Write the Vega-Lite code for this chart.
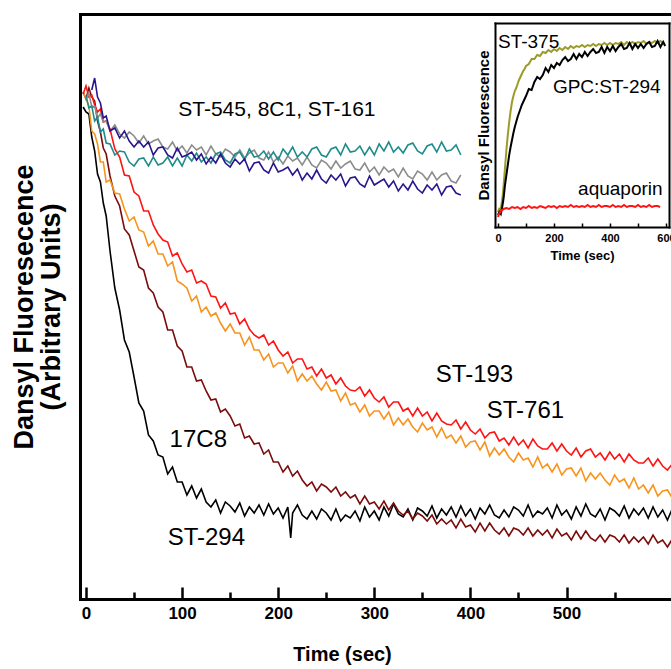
{
"$schema": "https://vega.github.io/schema/vega-lite/v6.json",
"width": 591, "height": 585,
"autosize": "none",
"padding": {"left": 80, "top": 14, "right": 0, "bottom": 70},
"background": "white",
"config": {"view": {"stroke": null}, "font": "Liberation Sans", "axis": {"grid": false, "zindex": 1}},
"datasets": {
"main": [
{"s":"ST-294","t":-3,"v":493},{"s":"ST-294","t":0,"v":488},{"s":"ST-294","t":3,"v":486},{"s":"ST-294","t":6,"v":463},{"s":"ST-294","t":9,"v":449},{"s":"ST-294","t":12,"v":426},{"s":"ST-294","t":15,"v":418},{"s":"ST-294","t":18,"v":397},{"s":"ST-294","t":21,"v":384},{"s":"ST-294","t":25,"v":349},{"s":"ST-294","t":30,"v":312},{"s":"ST-294","t":35,"v":290},{"s":"ST-294","t":40,"v":260},{"s":"ST-294","t":45,"v":248},{"s":"ST-294","t":50,"v":223},{"s":"ST-294","t":55,"v":197},{"s":"ST-294","t":60,"v":189},{"s":"ST-294","t":65,"v":165},{"s":"ST-294","t":70,"v":159},{"s":"ST-294","t":75,"v":145},{"s":"ST-294","t":80,"v":143},{"s":"ST-294","t":85,"v":126},{"s":"ST-294","t":90,"v":133},{"s":"ST-294","t":95,"v":118},{"s":"ST-294","t":100,"v":118},{"s":"ST-294","t":105,"v":105},{"s":"ST-294","t":110,"v":114},{"s":"ST-294","t":115,"v":102},{"s":"ST-294","t":120,"v":111},{"s":"ST-294","t":125,"v":98},{"s":"ST-294","t":130,"v":93},{"s":"ST-294","t":135,"v":100},{"s":"ST-294","t":140,"v":87},{"s":"ST-294","t":145,"v":98},{"s":"ST-294","t":150,"v":94},{"s":"ST-294","t":155,"v":88},{"s":"ST-294","t":160,"v":97},{"s":"ST-294","t":165,"v":84},{"s":"ST-294","t":170,"v":93},{"s":"ST-294","t":175,"v":87},{"s":"ST-294","t":180,"v":95},{"s":"ST-294","t":185,"v":85},{"s":"ST-294","t":190,"v":96},{"s":"ST-294","t":195,"v":86},{"s":"ST-294","t":200,"v":92},{"s":"ST-294","t":205,"v":82},{"s":"ST-294","t":210,"v":93},{"s":"ST-294","t":213,"v":62},{"s":"ST-294","t":215,"v":87},{"s":"ST-294","t":220,"v":95},{"s":"ST-294","t":225,"v":85},{"s":"ST-294","t":230,"v":81},{"s":"ST-294","t":235,"v":89},{"s":"ST-294","t":240,"v":81},{"s":"ST-294","t":245,"v":91},{"s":"ST-294","t":250,"v":87},{"s":"ST-294","t":255,"v":80},{"s":"ST-294","t":260,"v":91},{"s":"ST-294","t":265,"v":79},{"s":"ST-294","t":270,"v":85},{"s":"ST-294","t":275,"v":82},{"s":"ST-294","t":280,"v":89},{"s":"ST-294","t":285,"v":79},{"s":"ST-294","t":290,"v":93},{"s":"ST-294","t":295,"v":83},{"s":"ST-294","t":300,"v":89},{"s":"ST-294","t":305,"v":80},{"s":"ST-294","t":310,"v":93},{"s":"ST-294","t":315,"v":84},{"s":"ST-294","t":320,"v":96},{"s":"ST-294","t":325,"v":86},{"s":"ST-294","t":330,"v":83},{"s":"ST-294","t":335,"v":91},{"s":"ST-294","t":340,"v":80},{"s":"ST-294","t":345,"v":92},{"s":"ST-294","t":350,"v":89},{"s":"ST-294","t":355,"v":84},{"s":"ST-294","t":360,"v":94},{"s":"ST-294","t":365,"v":82},{"s":"ST-294","t":370,"v":91},{"s":"ST-294","t":375,"v":85},{"s":"ST-294","t":380,"v":93},{"s":"ST-294","t":385,"v":83},{"s":"ST-294","t":390,"v":94},{"s":"ST-294","t":395,"v":84},{"s":"ST-294","t":400,"v":91},{"s":"ST-294","t":405,"v":81},{"s":"ST-294","t":410,"v":92},{"s":"ST-294","t":415,"v":86},{"s":"ST-294","t":420,"v":95},{"s":"ST-294","t":425,"v":85},{"s":"ST-294","t":430,"v":82},{"s":"ST-294","t":435,"v":90},{"s":"ST-294","t":440,"v":83},{"s":"ST-294","t":445,"v":93},{"s":"ST-294","t":450,"v":90},{"s":"ST-294","t":455,"v":84},{"s":"ST-294","t":460,"v":95},{"s":"ST-294","t":465,"v":83},{"s":"ST-294","t":470,"v":89},{"s":"ST-294","t":475,"v":86},{"s":"ST-294","t":480,"v":92},{"s":"ST-294","t":485,"v":82},{"s":"ST-294","t":490,"v":95},{"s":"ST-294","t":495,"v":85},{"s":"ST-294","t":500,"v":90},{"s":"ST-294","t":505,"v":81},{"s":"ST-294","t":510,"v":93},{"s":"ST-294","t":515,"v":84},{"s":"ST-294","t":520,"v":96},{"s":"ST-294","t":525,"v":86},{"s":"ST-294","t":530,"v":83},{"s":"ST-294","t":535,"v":91},{"s":"ST-294","t":540,"v":80},{"s":"ST-294","t":545,"v":92},{"s":"ST-294","t":550,"v":89},{"s":"ST-294","t":555,"v":84},{"s":"ST-294","t":560,"v":94},{"s":"ST-294","t":565,"v":82},{"s":"ST-294","t":570,"v":91},{"s":"ST-294","t":575,"v":85},{"s":"ST-294","t":580,"v":92},{"s":"ST-294","t":585,"v":82},{"s":"ST-294","t":590,"v":93},{"s":"ST-294","t":595,"v":83},{"s":"ST-294","t":600,"v":90},{"s":"ST-294","t":605,"v":80},{"s":"ST-294","t":610,"v":91},
{"s":"17C8","t":-3,"v":508},{"s":"17C8","t":0,"v":501},{"s":"17C8","t":3,"v":512},{"s":"17C8","t":6,"v":503},{"s":"17C8","t":9,"v":499},{"s":"17C8","t":12,"v":479},{"s":"17C8","t":15,"v":468},{"s":"17C8","t":18,"v":452},{"s":"17C8","t":21,"v":446},{"s":"17C8","t":25,"v":424},{"s":"17C8","t":30,"v":404},{"s":"17C8","t":35,"v":394},{"s":"17C8","t":40,"v":371},{"s":"17C8","t":45,"v":365},{"s":"17C8","t":50,"v":349},{"s":"17C8","t":55,"v":333},{"s":"17C8","t":60,"v":330},{"s":"17C8","t":65,"v":312},{"s":"17C8","t":70,"v":307},{"s":"17C8","t":75,"v":293},{"s":"17C8","t":80,"v":288},{"s":"17C8","t":85,"v":270},{"s":"17C8","t":90,"v":270},{"s":"17C8","t":95,"v":254},{"s":"17C8","t":100,"v":249},{"s":"17C8","t":105,"v":233},{"s":"17C8","t":110,"v":233},{"s":"17C8","t":115,"v":219},{"s":"17C8","t":120,"v":220},{"s":"17C8","t":125,"v":209},{"s":"17C8","t":130,"v":200},{"s":"17C8","t":135,"v":201},{"s":"17C8","t":140,"v":188},{"s":"17C8","t":145,"v":191},{"s":"17C8","t":150,"v":184},{"s":"17C8","t":155,"v":174},{"s":"17C8","t":160,"v":176},{"s":"17C8","t":165,"v":162},{"s":"17C8","t":170,"v":164},{"s":"17C8","t":175,"v":156},{"s":"17C8","t":180,"v":157},{"s":"17C8","t":185,"v":146},{"s":"17C8","t":190,"v":150},{"s":"17C8","t":195,"v":138},{"s":"17C8","t":200,"v":138},{"s":"17C8","t":205,"v":128},{"s":"17C8","t":210,"v":134},{"s":"17C8","t":215,"v":124},{"s":"17C8","t":220,"v":129},{"s":"17C8","t":225,"v":120},{"s":"17C8","t":230,"v":114},{"s":"17C8","t":235,"v":118},{"s":"17C8","t":240,"v":109},{"s":"17C8","t":245,"v":116},{"s":"17C8","t":250,"v":113},{"s":"17C8","t":255,"v":108},{"s":"17C8","t":260,"v":113},{"s":"17C8","t":265,"v":104},{"s":"17C8","t":270,"v":108},{"s":"17C8","t":275,"v":102},{"s":"17C8","t":280,"v":105},{"s":"17C8","t":285,"v":96},{"s":"17C8","t":290,"v":104},{"s":"17C8","t":295,"v":96},{"s":"17C8","t":300,"v":98},{"s":"17C8","t":305,"v":91},{"s":"17C8","t":310,"v":99},{"s":"17C8","t":315,"v":90},{"s":"17C8","t":320,"v":97},{"s":"17C8","t":325,"v":89},{"s":"17C8","t":330,"v":85},{"s":"17C8","t":335,"v":89},{"s":"17C8","t":340,"v":81},{"s":"17C8","t":345,"v":87},{"s":"17C8","t":350,"v":84},{"s":"17C8","t":355,"v":79},{"s":"17C8","t":360,"v":85},{"s":"17C8","t":365,"v":76},{"s":"17C8","t":370,"v":81},{"s":"17C8","t":375,"v":76},{"s":"17C8","t":380,"v":80},{"s":"17C8","t":385,"v":72},{"s":"17C8","t":390,"v":81},{"s":"17C8","t":395,"v":73},{"s":"17C8","t":400,"v":75},{"s":"17C8","t":405,"v":68},{"s":"17C8","t":410,"v":77},{"s":"17C8","t":415,"v":69},{"s":"17C8","t":420,"v":77},{"s":"17C8","t":425,"v":70},{"s":"17C8","t":430,"v":66},{"s":"17C8","t":435,"v":72},{"s":"17C8","t":440,"v":64},{"s":"17C8","t":445,"v":72},{"s":"17C8","t":450,"v":70},{"s":"17C8","t":455,"v":65},{"s":"17C8","t":460,"v":72},{"s":"17C8","t":465,"v":64},{"s":"17C8","t":470,"v":70},{"s":"17C8","t":475,"v":65},{"s":"17C8","t":480,"v":70},{"s":"17C8","t":485,"v":62},{"s":"17C8","t":490,"v":71},{"s":"17C8","t":495,"v":64},{"s":"17C8","t":500,"v":67},{"s":"17C8","t":505,"v":60},{"s":"17C8","t":510,"v":69},{"s":"17C8","t":515,"v":61},{"s":"17C8","t":520,"v":69},{"s":"17C8","t":525,"v":62},{"s":"17C8","t":530,"v":59},{"s":"17C8","t":535,"v":65},{"s":"17C8","t":540,"v":58},{"s":"17C8","t":545,"v":65},{"s":"17C8","t":550,"v":63},{"s":"17C8","t":555,"v":58},{"s":"17C8","t":560,"v":65},{"s":"17C8","t":565,"v":57},{"s":"17C8","t":570,"v":63},{"s":"17C8","t":575,"v":58},{"s":"17C8","t":580,"v":63},{"s":"17C8","t":585,"v":56},{"s":"17C8","t":590,"v":65},{"s":"17C8","t":595,"v":57},{"s":"17C8","t":600,"v":60},{"s":"17C8","t":605,"v":53},{"s":"17C8","t":610,"v":61},
{"s":"ST-761","t":-3,"v":507},{"s":"ST-761","t":0,"v":502},{"s":"ST-761","t":3,"v":494},{"s":"ST-761","t":6,"v":469},{"s":"ST-761","t":9,"v":466},{"s":"ST-761","t":12,"v":456},{"s":"ST-761","t":15,"v":438},{"s":"ST-761","t":18,"v":438},{"s":"ST-761","t":21,"v":418},{"s":"ST-761","t":25,"v":420},{"s":"ST-761","t":30,"v":407},{"s":"ST-761","t":35,"v":406},{"s":"ST-761","t":40,"v":391},{"s":"ST-761","t":45,"v":379},{"s":"ST-761","t":50,"v":383},{"s":"ST-761","t":55,"v":370},{"s":"ST-761","t":60,"v":368},{"s":"ST-761","t":65,"v":354},{"s":"ST-761","t":70,"v":359},{"s":"ST-761","t":75,"v":346},{"s":"ST-761","t":80,"v":346},{"s":"ST-761","t":85,"v":334},{"s":"ST-761","t":90,"v":338},{"s":"ST-761","t":95,"v":319},{"s":"ST-761","t":100,"v":316},{"s":"ST-761","t":105,"v":312},{"s":"ST-761","t":110,"v":299},{"s":"ST-761","t":115,"v":304},{"s":"ST-761","t":120,"v":288},{"s":"ST-761","t":125,"v":293},{"s":"ST-761","t":130,"v":284},{"s":"ST-761","t":135,"v":287},{"s":"ST-761","t":140,"v":277},{"s":"ST-761","t":145,"v":269},{"s":"ST-761","t":150,"v":276},{"s":"ST-761","t":155,"v":267},{"s":"ST-761","t":160,"v":267},{"s":"ST-761","t":165,"v":255},{"s":"ST-761","t":170,"v":263},{"s":"ST-761","t":175,"v":250},{"s":"ST-761","t":180,"v":250},{"s":"ST-761","t":185,"v":240},{"s":"ST-761","t":190,"v":246},{"s":"ST-761","t":195,"v":233},{"s":"ST-761","t":200,"v":237},{"s":"ST-761","t":205,"v":237},{"s":"ST-761","t":210,"v":227},{"s":"ST-761","t":215,"v":234},{"s":"ST-761","t":220,"v":219},{"s":"ST-761","t":225,"v":226},{"s":"ST-761","t":230,"v":219},{"s":"ST-761","t":235,"v":224},{"s":"ST-761","t":240,"v":216},{"s":"ST-761","t":245,"v":210},{"s":"ST-761","t":250,"v":218},{"s":"ST-761","t":255,"v":209},{"s":"ST-761","t":260,"v":210},{"s":"ST-761","t":265,"v":199},{"s":"ST-761","t":270,"v":207},{"s":"ST-761","t":275,"v":195},{"s":"ST-761","t":280,"v":197},{"s":"ST-761","t":285,"v":188},{"s":"ST-761","t":290,"v":195},{"s":"ST-761","t":295,"v":184},{"s":"ST-761","t":300,"v":189},{"s":"ST-761","t":305,"v":189},{"s":"ST-761","t":310,"v":181},{"s":"ST-761","t":315,"v":188},{"s":"ST-761","t":320,"v":175},{"s":"ST-761","t":325,"v":182},{"s":"ST-761","t":330,"v":175},{"s":"ST-761","t":335,"v":181},{"s":"ST-761","t":340,"v":173},{"s":"ST-761","t":345,"v":168},{"s":"ST-761","t":350,"v":177},{"s":"ST-761","t":355,"v":170},{"s":"ST-761","t":360,"v":173},{"s":"ST-761","t":365,"v":163},{"s":"ST-761","t":370,"v":172},{"s":"ST-761","t":375,"v":162},{"s":"ST-761","t":380,"v":165},{"s":"ST-761","t":385,"v":157},{"s":"ST-761","t":390,"v":164},{"s":"ST-761","t":395,"v":153},{"s":"ST-761","t":400,"v":158},{"s":"ST-761","t":405,"v":159},{"s":"ST-761","t":410,"v":150},{"s":"ST-761","t":415,"v":158},{"s":"ST-761","t":420,"v":144},{"s":"ST-761","t":425,"v":152},{"s":"ST-761","t":430,"v":145},{"s":"ST-761","t":435,"v":151},{"s":"ST-761","t":440,"v":143},{"s":"ST-761","t":445,"v":138},{"s":"ST-761","t":450,"v":147},{"s":"ST-761","t":455,"v":140},{"s":"ST-761","t":460,"v":142},{"s":"ST-761","t":465,"v":133},{"s":"ST-761","t":470,"v":143},{"s":"ST-761","t":475,"v":132},{"s":"ST-761","t":480,"v":136},{"s":"ST-761","t":485,"v":128},{"s":"ST-761","t":490,"v":136},{"s":"ST-761","t":495,"v":125},{"s":"ST-761","t":500,"v":131},{"s":"ST-761","t":505,"v":132},{"s":"ST-761","t":510,"v":124},{"s":"ST-761","t":515,"v":132},{"s":"ST-761","t":520,"v":119},{"s":"ST-761","t":525,"v":127},{"s":"ST-761","t":530,"v":121},{"s":"ST-761","t":535,"v":127},{"s":"ST-761","t":540,"v":120},{"s":"ST-761","t":545,"v":115},{"s":"ST-761","t":550,"v":125},{"s":"ST-761","t":555,"v":118},{"s":"ST-761","t":560,"v":121},{"s":"ST-761","t":565,"v":112},{"s":"ST-761","t":570,"v":122},{"s":"ST-761","t":575,"v":111},{"s":"ST-761","t":580,"v":115},{"s":"ST-761","t":585,"v":107},{"s":"ST-761","t":590,"v":115},{"s":"ST-761","t":595,"v":104},{"s":"ST-761","t":600,"v":109},{"s":"ST-761","t":605,"v":110},{"s":"ST-761","t":610,"v":102},
{"s":"ST-193","t":-3,"v":506},{"s":"ST-193","t":0,"v":514},{"s":"ST-193","t":3,"v":503},{"s":"ST-193","t":6,"v":505},{"s":"ST-193","t":9,"v":495},{"s":"ST-193","t":12,"v":488},{"s":"ST-193","t":15,"v":491},{"s":"ST-193","t":18,"v":478},{"s":"ST-193","t":21,"v":479},{"s":"ST-193","t":25,"v":471},{"s":"ST-193","t":30,"v":451},{"s":"ST-193","t":35,"v":443},{"s":"ST-193","t":40,"v":425},{"s":"ST-193","t":45,"v":424},{"s":"ST-193","t":50,"v":408},{"s":"ST-193","t":55,"v":404},{"s":"ST-193","t":60,"v":389},{"s":"ST-193","t":65,"v":389},{"s":"ST-193","t":70,"v":375},{"s":"ST-193","t":75,"v":366},{"s":"ST-193","t":80,"v":360},{"s":"ST-193","t":85,"v":358},{"s":"ST-193","t":90,"v":344},{"s":"ST-193","t":95,"v":347},{"s":"ST-193","t":100,"v":336},{"s":"ST-193","t":105,"v":328},{"s":"ST-193","t":110,"v":330},{"s":"ST-193","t":115,"v":317},{"s":"ST-193","t":120,"v":319},{"s":"ST-193","t":125,"v":316},{"s":"ST-193","t":130,"v":304},{"s":"ST-193","t":135,"v":303},{"s":"ST-193","t":140,"v":292},{"s":"ST-193","t":145,"v":297},{"s":"ST-193","t":150,"v":286},{"s":"ST-193","t":155,"v":287},{"s":"ST-193","t":160,"v":276},{"s":"ST-193","t":165,"v":281},{"s":"ST-193","t":170,"v":271},{"s":"ST-193","t":175,"v":265},{"s":"ST-193","t":180,"v":262},{"s":"ST-193","t":185,"v":265},{"s":"ST-193","t":190,"v":255},{"s":"ST-193","t":195,"v":259},{"s":"ST-193","t":200,"v":250},{"s":"ST-193","t":205,"v":244},{"s":"ST-193","t":210,"v":248},{"s":"ST-193","t":215,"v":237},{"s":"ST-193","t":220,"v":241},{"s":"ST-193","t":225,"v":241},{"s":"ST-193","t":230,"v":231},{"s":"ST-193","t":235,"v":233},{"s":"ST-193","t":240,"v":224},{"s":"ST-193","t":245,"v":231},{"s":"ST-193","t":250,"v":222},{"s":"ST-193","t":255,"v":225},{"s":"ST-193","t":260,"v":216},{"s":"ST-193","t":265,"v":222},{"s":"ST-193","t":270,"v":214},{"s":"ST-193","t":275,"v":210},{"s":"ST-193","t":280,"v":209},{"s":"ST-193","t":285,"v":213},{"s":"ST-193","t":290,"v":204},{"s":"ST-193","t":295,"v":210},{"s":"ST-193","t":300,"v":202},{"s":"ST-193","t":305,"v":198},{"s":"ST-193","t":310,"v":203},{"s":"ST-193","t":315,"v":193},{"s":"ST-193","t":320,"v":198},{"s":"ST-193","t":325,"v":198},{"s":"ST-193","t":330,"v":189},{"s":"ST-193","t":335,"v":192},{"s":"ST-193","t":340,"v":184},{"s":"ST-193","t":345,"v":192},{"s":"ST-193","t":350,"v":184},{"s":"ST-193","t":355,"v":188},{"s":"ST-193","t":360,"v":179},{"s":"ST-193","t":365,"v":187},{"s":"ST-193","t":370,"v":179},{"s":"ST-193","t":375,"v":176},{"s":"ST-193","t":380,"v":175},{"s":"ST-193","t":385,"v":180},{"s":"ST-193","t":390,"v":171},{"s":"ST-193","t":395,"v":178},{"s":"ST-193","t":400,"v":170},{"s":"ST-193","t":405,"v":166},{"s":"ST-193","t":410,"v":171},{"s":"ST-193","t":415,"v":162},{"s":"ST-193","t":420,"v":167},{"s":"ST-193","t":425,"v":168},{"s":"ST-193","t":430,"v":159},{"s":"ST-193","t":435,"v":162},{"s":"ST-193","t":440,"v":155},{"s":"ST-193","t":445,"v":163},{"s":"ST-193","t":450,"v":155},{"s":"ST-193","t":455,"v":160},{"s":"ST-193","t":460,"v":152},{"s":"ST-193","t":465,"v":161},{"s":"ST-193","t":470,"v":154},{"s":"ST-193","t":475,"v":151},{"s":"ST-193","t":480,"v":151},{"s":"ST-193","t":485,"v":157},{"s":"ST-193","t":490,"v":149},{"s":"ST-193","t":495,"v":156},{"s":"ST-193","t":500,"v":149},{"s":"ST-193","t":505,"v":145},{"s":"ST-193","t":510,"v":152},{"s":"ST-193","t":515,"v":143},{"s":"ST-193","t":520,"v":149},{"s":"ST-193","t":525,"v":151},{"s":"ST-193","t":530,"v":143},{"s":"ST-193","t":535,"v":147},{"s":"ST-193","t":540,"v":140},{"s":"ST-193","t":545,"v":148},{"s":"ST-193","t":550,"v":141},{"s":"ST-193","t":555,"v":146},{"s":"ST-193","t":560,"v":138},{"s":"ST-193","t":565,"v":146},{"s":"ST-193","t":570,"v":140},{"s":"ST-193","t":575,"v":137},{"s":"ST-193","t":580,"v":137},{"s":"ST-193","t":585,"v":142},{"s":"ST-193","t":590,"v":134},{"s":"ST-193","t":595,"v":141},{"s":"ST-193","t":600,"v":134},{"s":"ST-193","t":605,"v":130},{"s":"ST-193","t":610,"v":136},
{"s":"8C1","t":0,"v":500},{"s":"8C1","t":3,"v":507},{"s":"8C1","t":6,"v":493},{"s":"8C1","t":9,"v":494},{"s":"8C1","t":12,"v":482},{"s":"8C1","t":15,"v":486},{"s":"8C1","t":18,"v":478},{"s":"8C1","t":21,"v":479},{"s":"8C1","t":25,"v":469},{"s":"8C1","t":30,"v":475},{"s":"8C1","t":35,"v":466},{"s":"8C1","t":40,"v":462},{"s":"8C1","t":45,"v":468},{"s":"8C1","t":50,"v":464},{"s":"8C1","t":55,"v":457},{"s":"8C1","t":60,"v":464},{"s":"8C1","t":65,"v":456},{"s":"8C1","t":70,"v":459},{"s":"8C1","t":75,"v":461},{"s":"8C1","t":80,"v":453},{"s":"8C1","t":85,"v":451},{"s":"8C1","t":90,"v":458},{"s":"8C1","t":95,"v":449},{"s":"8C1","t":100,"v":454},{"s":"8C1","t":105,"v":447},{"s":"8C1","t":110,"v":455},{"s":"8C1","t":115,"v":450},{"s":"8C1","t":120,"v":453},{"s":"8C1","t":125,"v":445},{"s":"8C1","t":130,"v":454},{"s":"8C1","t":135,"v":446},{"s":"8C1","t":140,"v":443},{"s":"8C1","t":145,"v":451},{"s":"8C1","t":150,"v":448},{"s":"8C1","t":155,"v":443},{"s":"8C1","t":160,"v":450},{"s":"8C1","t":165,"v":442},{"s":"8C1","t":170,"v":447},{"s":"8C1","t":175,"v":450},{"s":"8C1","t":180,"v":442},{"s":"8C1","t":185,"v":440},{"s":"8C1","t":190,"v":448},{"s":"8C1","t":195,"v":438},{"s":"8C1","t":200,"v":443},{"s":"8C1","t":205,"v":436},{"s":"8C1","t":210,"v":444},{"s":"8C1","t":215,"v":439},{"s":"8C1","t":220,"v":442},{"s":"8C1","t":225,"v":435},{"s":"8C1","t":230,"v":443},{"s":"8C1","t":235,"v":435},{"s":"8C1","t":240,"v":432},{"s":"8C1","t":245,"v":440},{"s":"8C1","t":250,"v":437},{"s":"8C1","t":255,"v":431},{"s":"8C1","t":260,"v":439},{"s":"8C1","t":265,"v":432},{"s":"8C1","t":270,"v":436},{"s":"8C1","t":275,"v":439},{"s":"8C1","t":280,"v":431},{"s":"8C1","t":285,"v":430},{"s":"8C1","t":290,"v":437},{"s":"8C1","t":295,"v":428},{"s":"8C1","t":300,"v":433},{"s":"8C1","t":305,"v":425},{"s":"8C1","t":310,"v":433},{"s":"8C1","t":315,"v":428},{"s":"8C1","t":320,"v":431},{"s":"8C1","t":325,"v":423},{"s":"8C1","t":330,"v":432},{"s":"8C1","t":335,"v":424},{"s":"8C1","t":340,"v":421},{"s":"8C1","t":345,"v":429},{"s":"8C1","t":350,"v":426},{"s":"8C1","t":355,"v":420},{"s":"8C1","t":360,"v":428},{"s":"8C1","t":365,"v":420},{"s":"8C1","t":370,"v":425},{"s":"8C1","t":375,"v":427},{"s":"8C1","t":380,"v":419},{"s":"8C1","t":385,"v":417},{"s":"8C1","t":390,"v":425},
{"s":"ST-545","t":0,"v":504},{"s":"ST-545","t":3,"v":492},{"s":"ST-545","t":6,"v":494},{"s":"ST-545","t":9,"v":479},{"s":"ST-545","t":12,"v":483},{"s":"ST-545","t":15,"v":468},{"s":"ST-545","t":18,"v":471},{"s":"ST-545","t":21,"v":457},{"s":"ST-545","t":25,"v":456},{"s":"ST-545","t":30,"v":445},{"s":"ST-545","t":35,"v":449},{"s":"ST-545","t":40,"v":448},{"s":"ST-545","t":45,"v":438},{"s":"ST-545","t":50,"v":434},{"s":"ST-545","t":55,"v":441},{"s":"ST-545","t":60,"v":442},{"s":"ST-545","t":65,"v":434},{"s":"ST-545","t":70,"v":443},{"s":"ST-545","t":75,"v":435},{"s":"ST-545","t":80,"v":437},{"s":"ST-545","t":85,"v":443},{"s":"ST-545","t":90,"v":434},{"s":"ST-545","t":95,"v":442},{"s":"ST-545","t":100,"v":434},{"s":"ST-545","t":105,"v":445},{"s":"ST-545","t":110,"v":439},{"s":"ST-545","t":115,"v":447},{"s":"ST-545","t":120,"v":438},{"s":"ST-545","t":125,"v":443},{"s":"ST-545","t":130,"v":437},{"s":"ST-545","t":135,"v":446},{"s":"ST-545","t":140,"v":448},{"s":"ST-545","t":145,"v":440},{"s":"ST-545","t":150,"v":437},{"s":"ST-545","t":155,"v":446},{"s":"ST-545","t":160,"v":448},{"s":"ST-545","t":165,"v":440},{"s":"ST-545","t":170,"v":451},{"s":"ST-545","t":175,"v":443},{"s":"ST-545","t":180,"v":444},{"s":"ST-545","t":185,"v":449},{"s":"ST-545","t":190,"v":441},{"s":"ST-545","t":195,"v":448},{"s":"ST-545","t":200,"v":440},{"s":"ST-545","t":205,"v":451},{"s":"ST-545","t":210,"v":445},{"s":"ST-545","t":215,"v":453},{"s":"ST-545","t":220,"v":443},{"s":"ST-545","t":225,"v":448},{"s":"ST-545","t":230,"v":443},{"s":"ST-545","t":235,"v":451},{"s":"ST-545","t":240,"v":453},{"s":"ST-545","t":245,"v":445},{"s":"ST-545","t":250,"v":443},{"s":"ST-545","t":255,"v":451},{"s":"ST-545","t":260,"v":453},{"s":"ST-545","t":265,"v":445},{"s":"ST-545","t":270,"v":456},{"s":"ST-545","t":275,"v":448},{"s":"ST-545","t":280,"v":449},{"s":"ST-545","t":285,"v":454},{"s":"ST-545","t":290,"v":445},{"s":"ST-545","t":295,"v":453},{"s":"ST-545","t":300,"v":445},{"s":"ST-545","t":305,"v":456},{"s":"ST-545","t":310,"v":449},{"s":"ST-545","t":315,"v":458},{"s":"ST-545","t":320,"v":448},{"s":"ST-545","t":325,"v":453},{"s":"ST-545","t":330,"v":447},{"s":"ST-545","t":335,"v":455},{"s":"ST-545","t":340,"v":457},{"s":"ST-545","t":345,"v":449},{"s":"ST-545","t":350,"v":446},{"s":"ST-545","t":355,"v":454},{"s":"ST-545","t":360,"v":456},{"s":"ST-545","t":365,"v":448},{"s":"ST-545","t":370,"v":458},{"s":"ST-545","t":375,"v":449},{"s":"ST-545","t":380,"v":450},{"s":"ST-545","t":385,"v":455},{"s":"ST-545","t":390,"v":445},
{"s":"ST-161","t":6,"v":510},{"s":"ST-161","t":9,"v":522},{"s":"ST-161","t":12,"v":503},{"s":"ST-161","t":15,"v":497},{"s":"ST-161","t":18,"v":482},{"s":"ST-161","t":21,"v":484},{"s":"ST-161","t":25,"v":469},{"s":"ST-161","t":30,"v":472},{"s":"ST-161","t":35,"v":462},{"s":"ST-161","t":40,"v":469},{"s":"ST-161","t":45,"v":459},{"s":"ST-161","t":50,"v":453},{"s":"ST-161","t":55,"v":459},{"s":"ST-161","t":60,"v":453},{"s":"ST-161","t":65,"v":458},{"s":"ST-161","t":70,"v":445},{"s":"ST-161","t":75,"v":452},{"s":"ST-161","t":80,"v":453},{"s":"ST-161","t":85,"v":445},{"s":"ST-161","t":90,"v":442},{"s":"ST-161","t":95,"v":452},{"s":"ST-161","t":100,"v":443},{"s":"ST-161","t":105,"v":445},{"s":"ST-161","t":110,"v":448},{"s":"ST-161","t":115,"v":440},{"s":"ST-161","t":120,"v":446},{"s":"ST-161","t":125,"v":436},{"s":"ST-161","t":130,"v":443},{"s":"ST-161","t":135,"v":437},{"s":"ST-161","t":140,"v":446},{"s":"ST-161","t":145,"v":437},{"s":"ST-161","t":150,"v":433},{"s":"ST-161","t":155,"v":441},{"s":"ST-161","t":160,"v":436},{"s":"ST-161","t":165,"v":441},{"s":"ST-161","t":170,"v":429},{"s":"ST-161","t":175,"v":437},{"s":"ST-161","t":180,"v":438},{"s":"ST-161","t":185,"v":430},{"s":"ST-161","t":190,"v":427},{"s":"ST-161","t":195,"v":437},{"s":"ST-161","t":200,"v":428},{"s":"ST-161","t":205,"v":430},{"s":"ST-161","t":210,"v":433},{"s":"ST-161","t":215,"v":425},{"s":"ST-161","t":220,"v":431},{"s":"ST-161","t":225,"v":420},{"s":"ST-161","t":230,"v":427},{"s":"ST-161","t":235,"v":421},{"s":"ST-161","t":240,"v":430},{"s":"ST-161","t":245,"v":421},{"s":"ST-161","t":250,"v":417},{"s":"ST-161","t":255,"v":425},{"s":"ST-161","t":260,"v":420},{"s":"ST-161","t":265,"v":426},{"s":"ST-161","t":270,"v":414},{"s":"ST-161","t":275,"v":422},{"s":"ST-161","t":280,"v":423},{"s":"ST-161","t":285,"v":416},{"s":"ST-161","t":290,"v":413},{"s":"ST-161","t":295,"v":424},{"s":"ST-161","t":300,"v":415},{"s":"ST-161","t":305,"v":418},{"s":"ST-161","t":310,"v":421},{"s":"ST-161","t":315,"v":413},{"s":"ST-161","t":320,"v":419},{"s":"ST-161","t":325,"v":409},{"s":"ST-161","t":330,"v":416},{"s":"ST-161","t":335,"v":410},{"s":"ST-161","t":340,"v":419},{"s":"ST-161","t":345,"v":411},{"s":"ST-161","t":350,"v":407},{"s":"ST-161","t":355,"v":415},{"s":"ST-161","t":360,"v":410},{"s":"ST-161","t":365,"v":416},{"s":"ST-161","t":370,"v":405},{"s":"ST-161","t":375,"v":413},{"s":"ST-161","t":380,"v":414},{"s":"ST-161","t":385,"v":407},{"s":"ST-161","t":390,"v":405}
],
"mlab": [
{"label":"ST-545, 8C1, ST-161","t":96,"v":484},
{"label":"ST-193","t":364,"v":218},
{"label":"ST-761","t":417,"v":182},
{"label":"17C8","t":87,"v":153},
{"label":"ST-294","t":85,"v":55}
],
"inset": [
{"s":"ST-375","t":0,"v":15},{"s":"ST-375","t":4,"v":18},{"s":"ST-375","t":8,"v":17},{"s":"ST-375","t":12,"v":22},{"s":"ST-375","t":15,"v":27},{"s":"ST-375","t":18,"v":35},{"s":"ST-375","t":21,"v":45},{"s":"ST-375","t":25,"v":59},{"s":"ST-375","t":30,"v":77},{"s":"ST-375","t":35,"v":92},{"s":"ST-375","t":40,"v":105},{"s":"ST-375","t":45,"v":116},{"s":"ST-375","t":50,"v":125},{"s":"ST-375","t":55,"v":131},{"s":"ST-375","t":60,"v":136},{"s":"ST-375","t":65,"v":139},{"s":"ST-375","t":70,"v":143},{"s":"ST-375","t":75,"v":147},{"s":"ST-375","t":80,"v":150},{"s":"ST-375","t":85,"v":153},{"s":"ST-375","t":90,"v":156},{"s":"ST-375","t":95,"v":158},{"s":"ST-375","t":100,"v":161},{"s":"ST-375","t":110,"v":163},{"s":"ST-375","t":120,"v":168},{"s":"ST-375","t":130,"v":168},{"s":"ST-375","t":140,"v":172},{"s":"ST-375","t":150,"v":171},{"s":"ST-375","t":160,"v":175},{"s":"ST-375","t":170,"v":174},{"s":"ST-375","t":180,"v":177},{"s":"ST-375","t":190,"v":175},{"s":"ST-375","t":200,"v":178},{"s":"ST-375","t":210,"v":176},{"s":"ST-375","t":220,"v":179},{"s":"ST-375","t":230,"v":177},{"s":"ST-375","t":240,"v":180},{"s":"ST-375","t":250,"v":178},{"s":"ST-375","t":260,"v":181},{"s":"ST-375","t":270,"v":179},{"s":"ST-375","t":280,"v":181},{"s":"ST-375","t":290,"v":180},{"s":"ST-375","t":300,"v":182},{"s":"ST-375","t":310,"v":180},{"s":"ST-375","t":320,"v":182},{"s":"ST-375","t":330,"v":181},{"s":"ST-375","t":340,"v":183},{"s":"ST-375","t":350,"v":181},{"s":"ST-375","t":360,"v":183},{"s":"ST-375","t":370,"v":182},{"s":"ST-375","t":380,"v":184},{"s":"ST-375","t":390,"v":182},{"s":"ST-375","t":400,"v":184},{"s":"ST-375","t":410,"v":182},{"s":"ST-375","t":420,"v":184},{"s":"ST-375","t":430,"v":183},{"s":"ST-375","t":440,"v":185},{"s":"ST-375","t":450,"v":182},{"s":"ST-375","t":460,"v":185},{"s":"ST-375","t":470,"v":183},{"s":"ST-375","t":480,"v":185},{"s":"ST-375","t":490,"v":183},{"s":"ST-375","t":500,"v":185},{"s":"ST-375","t":510,"v":184},{"s":"ST-375","t":520,"v":186},{"s":"ST-375","t":530,"v":183},{"s":"ST-375","t":540,"v":185},{"s":"ST-375","t":550,"v":184},{"s":"ST-375","t":560,"v":186},{"s":"ST-375","t":570,"v":184},{"s":"ST-375","t":580,"v":186},{"s":"ST-375","t":590,"v":184},
{"s":"GPC:ST-294","t":0,"v":12},{"s":"GPC:ST-294","t":5,"v":15},{"s":"GPC:ST-294","t":10,"v":13},{"s":"GPC:ST-294","t":15,"v":20},{"s":"GPC:ST-294","t":20,"v":29},{"s":"GPC:ST-294","t":25,"v":42},{"s":"GPC:ST-294","t":30,"v":52},{"s":"GPC:ST-294","t":35,"v":62},{"s":"GPC:ST-294","t":40,"v":72},{"s":"GPC:ST-294","t":45,"v":80},{"s":"GPC:ST-294","t":50,"v":87},{"s":"GPC:ST-294","t":55,"v":94},{"s":"GPC:ST-294","t":60,"v":100},{"s":"GPC:ST-294","t":65,"v":105},{"s":"GPC:ST-294","t":70,"v":110},{"s":"GPC:ST-294","t":75,"v":114},{"s":"GPC:ST-294","t":80,"v":118},{"s":"GPC:ST-294","t":85,"v":122},{"s":"GPC:ST-294","t":90,"v":125},{"s":"GPC:ST-294","t":95,"v":128},{"s":"GPC:ST-294","t":100,"v":131},{"s":"GPC:ST-294","t":110,"v":138},{"s":"GPC:ST-294","t":120,"v":137},{"s":"GPC:ST-294","t":130,"v":145},{"s":"GPC:ST-294","t":140,"v":150},{"s":"GPC:ST-294","t":150,"v":148},{"s":"GPC:ST-294","t":160,"v":152},{"s":"GPC:ST-294","t":170,"v":159},{"s":"GPC:ST-294","t":180,"v":155},{"s":"GPC:ST-294","t":190,"v":162},{"s":"GPC:ST-294","t":200,"v":159},{"s":"GPC:ST-294","t":210,"v":164},{"s":"GPC:ST-294","t":220,"v":162},{"s":"GPC:ST-294","t":230,"v":167},{"s":"GPC:ST-294","t":240,"v":170},{"s":"GPC:ST-294","t":250,"v":166},{"s":"GPC:ST-294","t":260,"v":168},{"s":"GPC:ST-294","t":270,"v":173},{"s":"GPC:ST-294","t":280,"v":168},{"s":"GPC:ST-294","t":290,"v":173},{"s":"GPC:ST-294","t":300,"v":170},{"s":"GPC:ST-294","t":310,"v":175},{"s":"GPC:ST-294","t":320,"v":171},{"s":"GPC:ST-294","t":330,"v":175},{"s":"GPC:ST-294","t":340,"v":178},{"s":"GPC:ST-294","t":350,"v":174},{"s":"GPC:ST-294","t":360,"v":175},{"s":"GPC:ST-294","t":370,"v":180},{"s":"GPC:ST-294","t":380,"v":174},{"s":"GPC:ST-294","t":390,"v":180},{"s":"GPC:ST-294","t":400,"v":176},{"s":"GPC:ST-294","t":410,"v":181},{"s":"GPC:ST-294","t":420,"v":176},{"s":"GPC:ST-294","t":430,"v":180},{"s":"GPC:ST-294","t":440,"v":183},{"s":"GPC:ST-294","t":450,"v":178},{"s":"GPC:ST-294","t":460,"v":179},{"s":"GPC:ST-294","t":470,"v":184},{"s":"GPC:ST-294","t":480,"v":178},{"s":"GPC:ST-294","t":490,"v":183},{"s":"GPC:ST-294","t":500,"v":179},{"s":"GPC:ST-294","t":510,"v":183},{"s":"GPC:ST-294","t":520,"v":179},{"s":"GPC:ST-294","t":530,"v":183},{"s":"GPC:ST-294","t":540,"v":185},{"s":"GPC:ST-294","t":550,"v":180},{"s":"GPC:ST-294","t":560,"v":181},{"s":"GPC:ST-294","t":570,"v":186},{"s":"GPC:ST-294","t":580,"v":180},{"s":"GPC:ST-294","t":590,"v":185},{"s":"GPC:ST-294","t":597,"v":181},
{"s":"aquaporin","t":0,"v":10},{"s":"aquaporin","t":4,"v":13},{"s":"aquaporin","t":8,"v":15},{"s":"aquaporin","t":12,"v":17},{"s":"aquaporin","t":16,"v":17},{"s":"aquaporin","t":20,"v":18},{"s":"aquaporin","t":30,"v":19},{"s":"aquaporin","t":40,"v":18},{"s":"aquaporin","t":50,"v":20},{"s":"aquaporin","t":60,"v":19},{"s":"aquaporin","t":70,"v":20},{"s":"aquaporin","t":80,"v":18},{"s":"aquaporin","t":90,"v":20},{"s":"aquaporin","t":100,"v":19},{"s":"aquaporin","t":110,"v":21},{"s":"aquaporin","t":120,"v":19},{"s":"aquaporin","t":130,"v":20},{"s":"aquaporin","t":140,"v":19},{"s":"aquaporin","t":150,"v":21},{"s":"aquaporin","t":160,"v":20},{"s":"aquaporin","t":170,"v":19},{"s":"aquaporin","t":180,"v":21},{"s":"aquaporin","t":190,"v":20},{"s":"aquaporin","t":200,"v":21},{"s":"aquaporin","t":210,"v":19},{"s":"aquaporin","t":220,"v":21},{"s":"aquaporin","t":230,"v":20},{"s":"aquaporin","t":240,"v":21},{"s":"aquaporin","t":250,"v":20},{"s":"aquaporin","t":260,"v":22},{"s":"aquaporin","t":270,"v":20},{"s":"aquaporin","t":280,"v":21},{"s":"aquaporin","t":290,"v":20},{"s":"aquaporin","t":300,"v":21},{"s":"aquaporin","t":310,"v":20},{"s":"aquaporin","t":320,"v":22},{"s":"aquaporin","t":330,"v":20},{"s":"aquaporin","t":340,"v":21},{"s":"aquaporin","t":350,"v":20},{"s":"aquaporin","t":360,"v":22},{"s":"aquaporin","t":370,"v":20},{"s":"aquaporin","t":380,"v":21},{"s":"aquaporin","t":390,"v":21},{"s":"aquaporin","t":400,"v":20},{"s":"aquaporin","t":410,"v":22},{"s":"aquaporin","t":420,"v":20},{"s":"aquaporin","t":430,"v":21},{"s":"aquaporin","t":440,"v":20},{"s":"aquaporin","t":450,"v":22},{"s":"aquaporin","t":460,"v":20},{"s":"aquaporin","t":470,"v":21},{"s":"aquaporin","t":480,"v":21},{"s":"aquaporin","t":490,"v":20},{"s":"aquaporin","t":500,"v":22},{"s":"aquaporin","t":510,"v":20},{"s":"aquaporin","t":520,"v":21},{"s":"aquaporin","t":530,"v":20},{"s":"aquaporin","t":540,"v":22},{"s":"aquaporin","t":550,"v":20},{"s":"aquaporin","t":560,"v":21},{"s":"aquaporin","t":570,"v":21},{"s":"aquaporin","t":579,"v":20}
],
"ilab": [
{"label":"ST-375","t":0,"v":179},
{"label":"GPC:ST-294","t":196,"v":134},
{"label":"aquaporin","t":286,"v":32}
]
},
"layer": [
{
"layer": [
{
"data": {"name": "main"},
"mark": {"type": "line", "strokeWidth": 1.6, "clip": true},
"encoding": {
"x": {"field": "t", "type": "quantitative",
"scale": {"domain": [-6.24, 608.7], "nice": false, "zero": false},
"axis": {"orient": "bottom", "values": [0,50,100,150,200,250,300,350,400,450,500,550],
"labelExpr": "datum.value % 100 === 0 ? datum.label : ''",
"tickSize": {"condition": {"test": "datum.value % 100 === 0", "value": -12}, "value": -7},
"tickWidth": 2.5, "tickColor": "black", "domainWidth": 3, "domainColor": "black", "domainCap": "square",
"labelFont": "Liberation Sans", "labelFontSize": 17, "labelFontWeight": "bold", "labelColor": "black",
"labelPadding": 18, "labelBaseline": "top", "labelFlush": false, "labelOverlap": false,
"title": "Time (sec)", "titleFont": "Liberation Sans", "titleFontSize": 20, "titleFontWeight": "bold", "titleColor": "black",
"titleX": 262, "titleY": 45, "titleBaseline": "top", "titleAlign": "center", "grid": false, "zindex": 1}},
"y": {"field": "v", "type": "quantitative",
"scale": {"domain": [1, 586], "nice": false, "zero": false},
"axis": {"orient": "left", "domainWidth": 3, "domainColor": "black", "domainCap": "square", "ticks": false, "labels": false, "grid": false,
"title": ["Dansyl Fluoresecence", "(Arbitrary Units)"], "titleFont": "Liberation Sans", "titleFontSize": 27, "titleFontWeight": "bold", "titleColor": "black", "titleLineHeight": 27, "titlePadding": 15, "zindex": 1}},
"color": {"field": "s", "type": "nominal",
"scale": {"domain": ["ST-294","17C8","ST-761","ST-193","8C1","ST-545","ST-161"], "range": ["#000000","#7a0c0c","#f7941d","#ff1414","#8c8c8c","#1f8c8c","#2a168c"]},
"legend": null}
}
},
{
"data": {"name": "mlab"},
"mark": {"type": "text", "align": "left", "baseline": "alphabetic", "font": "Liberation Sans", "color": "black"},
"encoding": {
"x": {"field": "t", "type": "quantitative", "axis": {"orient": "top", "labels": false, "ticks": false, "title": null, "domainWidth": 3, "domainColor": "black", "domainCap": "square", "grid": false, "zindex": 1}},
"y": {"field": "v", "type": "quantitative"},
"text": {"field": "label"},
"size": {"condition": {"test": "datum.label === 'ST-545, 8C1, ST-161'", "value": 21}, "value": 24}
}
}
],
"resolve": {"axis": {"x": "independent"}}
},
{
"layer": [
{
"data": {"name": "inset"},
"mark": {"type": "line", "strokeWidth": 2},
"encoding": {
"x": {"field": "t", "type": "quantitative",
"scale": {"domain": [-10.7, 610.7], "range": [415, 589], "nice": false, "zero": false},
"axis": {"orient": "bottom", "offset": -372, "values": [0,100,200,300,400,500,600],
"labelExpr": "datum.value % 200 === 0 ? datum.label : ''",
"tickSize": -4, "tickWidth": 1.5, "tickColor": "black", "domain": true, "domainWidth": 2, "domainColor": "black", "domainCap": "square",
"labelFont": "Liberation Sans", "labelFontSize": 11, "labelFontWeight": "bold", "labelColor": "black",
"labelPadding": 9, "labelFlush": false, "labelOverlap": false,
"title": "Time (sec)", "titleFont": "Liberation Sans", "titleFontSize": 13, "titleFontWeight": "bold", "titleColor": "black", "titlePadding": 6, "grid": false, "zindex": 1}},
"y": {"field": "v", "type": "quantitative",
"scale": {"domain": [0, 204], "range": [213, 9], "nice": false, "zero": false},
"axis": {"orient": "left", "offset": -415, "domain": true, "domainWidth": 2, "domainColor": "black", "domainCap": "square", "ticks": false, "labels": false, "grid": false,
"title": "Dansyl Fluorescence", "titleFont": "Liberation Sans", "titleFontSize": 15, "titleFontWeight": "bold", "titleColor": "black", "titlePadding": 4, "zindex": 1}},
"color": {"field": "s", "type": "nominal",
"scale": {"domain": ["ST-375","GPC:ST-294","aquaporin"], "range": ["#9b9b28","#000000","#ff1414"]},
"legend": null}
}
},
{
"data": {"name": "ilab"},
"mark": {"type": "text", "align": "left", "baseline": "alphabetic", "font": "Liberation Sans", "fontSize": 19, "color": "black"},
"encoding": {
"x": {"field": "t", "type": "quantitative",
"axis": {"orient": "top", "offset": -9, "labels": false, "ticks": false, "title": null, "domain": true, "domainWidth": 2, "domainColor": "black", "domainCap": "square", "grid": false, "zindex": 1}},
"y": {"field": "v", "type": "quantitative",
"axis": {"orient": "right", "offset": -2, "labels": false, "ticks": false, "title": null, "domain": true, "domainWidth": 2, "domainColor": "black", "domainCap": "square", "grid": false, "zindex": 1}},
"text": {"field": "label"}
}
}
],
"resolve": {"axis": {"x": "independent", "y": "independent"}}
}
],
"resolve": {"scale": {"x": "independent", "y": "independent", "color": "independent"}, "axis": {"x": "independent", "y": "independent"}}
}
